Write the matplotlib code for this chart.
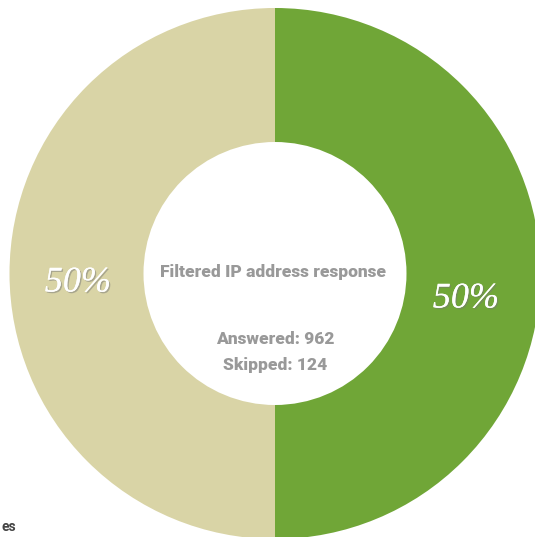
import matplotlib
matplotlib.use("Agg")
import matplotlib.pyplot as plt
import matplotlib.patheffects as pe

# Data
segments = ["Skipped share", "Answered share"]
shares = [50, 50]
share_labels = ["50%", "50%"]
colors = ["#d9d4a6", "#70a637"]
center_title = "Filtered IP address response"
answered = 962
skipped = 124

W, H = 535, 537
fig = plt.figure(figsize=(W / 100, H / 100), dpi=100)
ax = fig.add_axes([0, 0, 1, 1])

cx, cy = 275, H - 273.5
R = 265.5
wedges, _ = ax.pie(shares, colors=colors, startangle=90, counterclock=True,
                   radius=R, center=(cx, cy),
                   wedgeprops=dict(width=R - 131.5, linewidth=0))
ax.set_xlim(0, W)
ax.set_ylim(0, H)
ax.set_aspect("equal")
ax.axis("off")

shadow = [pe.withSimplePatchShadow(offset=(1, -1), shadow_rgbFace="#777777", alpha=0.5), pe.Normal()]
ax.text(78, H - 283, share_labels[0], color="white", fontsize=26, style="italic",
        family="Liberation Serif", ha="center", va="center", path_effects=shadow)
ax.text(466, H - 299, share_labels[1], color="white", fontsize=26, style="italic",
        family="Liberation Serif", ha="center", va="center", path_effects=shadow)

txt_kw = dict(color="#999999", fontsize=12.5, fontweight="heavy", family="Roboto",
              ha="center", va="center")
ax.text(cx - 2, H - 272, center_title, **txt_kw)
ax.text(cx, H - 339, f"Answered: {answered}", **txt_kw)
ax.text(cx, H - 365, f"Skipped: {skipped}", **txt_kw)

ax.text(1, H - 527, "es", color="#444444", fontsize=10, fontweight="bold",
        family="Roboto", ha="left", va="center")

fig.savefig("out.png", dpi=100)
